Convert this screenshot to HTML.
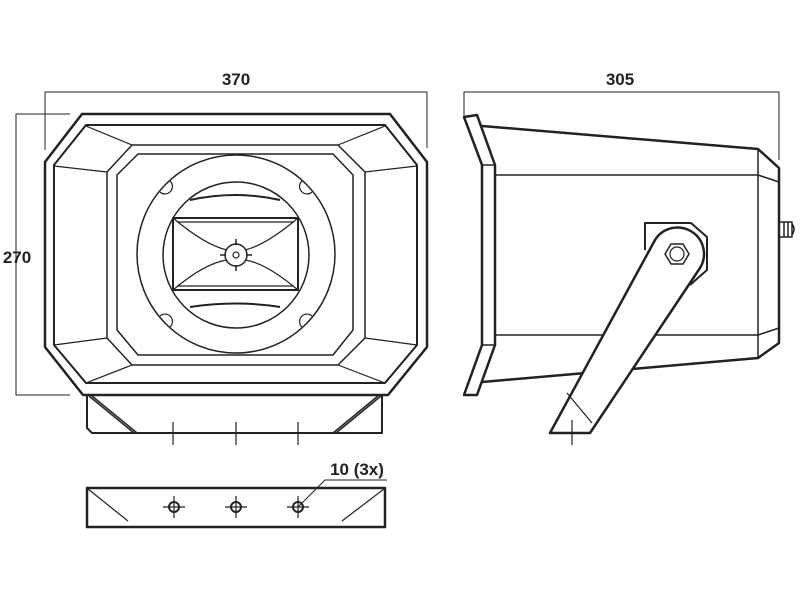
<!DOCTYPE html>
<html><head><style>html,body{margin:0;padding:0;background:#fff}svg{display:block}</style></head><body>
<svg width="800" height="600" viewBox="0 0 800 600" xmlns="http://www.w3.org/2000/svg" fill="none" stroke="#222" stroke-linejoin="round">
<g font-family="Liberation Sans, sans-serif" font-weight="bold" font-size="17" fill="#222" stroke="none">
<text x="236" y="85" text-anchor="middle">370</text>
<text x="620" y="85" text-anchor="middle">305</text>
<text x="17" y="263" text-anchor="middle">270</text>
<text x="357" y="475" text-anchor="middle">10 (3x)</text>
</g>
<g stroke-width="1">
<path d="M45 150V92H427V148"/>
<path d="M464 118V92H779V160"/>
<path d="M70 114H16V395H70"/>
<path d="M298 507L325 480H387"/>
</g>
<!-- front view -->
<path stroke-width="2.5" d="M82 114H390L427 162V347L388 395H83L45 347V162Z"/>
<path stroke-width="2" d="M86 125H385L417 165V345L385 383H86L54 345V165Z"/>
<path stroke-width="1.5" d="M132 145H338L365 172V338L338 365H132L107 338V172Z"/>
<path stroke-width="1.5" d="M138 154H333L353 175V330L333 355H138L117 330V175Z"/>
<path stroke-width="1.2" d="M86 126L132 145M385 126L338 145M54 166L107 172M417 166L365 172M54 345L107 338M417 345L365 338M86 383L132 365M385 383L338 365"/>
<circle cx="236" cy="254" r="99" stroke-width="1.5"/>
<circle cx="236" cy="255" r="73" stroke-width="1.5"/>
<path stroke-width="1.2" d="M160 192A7 7 0 1 0 170 181M312 192A7 7 0 1 1 302 181M160 316A7 7 0 1 1 170 327M312 316A7 7 0 1 0 302 327"/>
<path stroke-width="2" d="M173 218H298V290H173Z"/>
<path stroke-width="1.2" d="M177 222L294 222M177 286H294M173 218Q205 245 227 250M298 218Q266 245 245 250M173 290Q205 263 227 260M298 290Q266 263 245 260"/>
<path stroke-width="2" d="M190 200Q236 190 280 200M190 307Q236 300 280 307"/>
<circle cx="236" cy="255" r="11" stroke-width="1.5"/>
<circle cx="236" cy="255" r="3" stroke-width="1.2"/>
<path stroke-width="1.5" d="M236 239v6M236 265v6M220 255h6M246 255h6"/>
<path stroke-width="2" d="M87 395V428L92 433H382V395"/>
<path stroke-width="1.5" d="M89 396L134 433M92 396L137 433M381 396L336 433M378 396L333 433"/>
<path stroke-width="1.2" d="M173 422V445M236 422V445M298 422V445"/>
<!-- strip -->
<rect x="87" y="488" width="298" height="39" stroke-width="2.5"/>
<path stroke-width="1.2" d="M88 489L128 521M384 489L342 521"/>
<g stroke-width="2"><circle cx="174" cy="507" r="5"/><circle cx="236" cy="507" r="5"/><circle cx="298" cy="507" r="5"/></g>
<path stroke-width="1.2" d="M163 507h22M174 496v22M225 507h22M236 496v22M287 507h22M298 496v22"/>
<!-- side view -->
<path stroke-width="2.5" d="M464 117L477 115L495 165V345L477 395L464 395L482 345V165Z"/>
<path stroke-width="1.5" d="M482 165H495M482 345H495"/>
<path stroke-width="2.5" d="M482 126L758 149L779 168V343L758 358L482 382"/>
<path stroke-width="1.5" d="M758 149V358M495 175H758L779 182M495 335H758L779 328"/>
<path stroke-width="1.5" d="M779 222h13v15h-13M784 222v15M788 222v15M792 224q4 5 0 11"/>
<path stroke-width="2" d="M645 250V223H691L707 237V270L690 285"/>
<path stroke-width="2.5" fill="#fff" d="M550 433L655 240A22 22 0 0 1 700 268L590 433Z"/>
<path stroke-width="1.2" d="M567 393L592 423M572 420V445"/>
<polygon stroke-width="1.5" points="689,254 683,264 671,264 665,254 671,244 683,244"/>
<circle cx="677" cy="254" r="7" stroke-width="1.2"/>
</svg>
</body></html>
